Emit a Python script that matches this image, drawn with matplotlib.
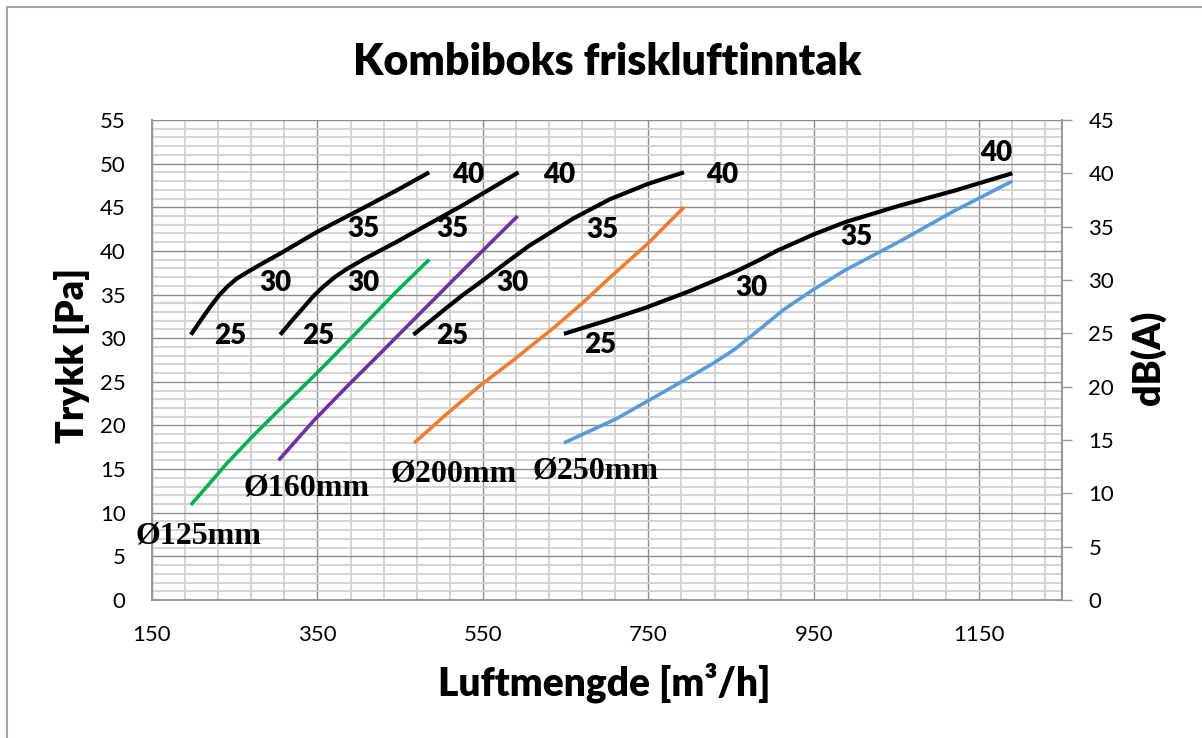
import matplotlib
matplotlib.use("Agg")
import matplotlib.pyplot as plt
import numpy as np
from matplotlib.patches import Rectangle

# Luftmengde [m3/h] / trykk [Pa] for hver kanaldimensjon
x_125 = [197, 220, 240, 272, 305, 345, 365, 405, 445, 485]
y_125 = [10.9, 13.4, 15.6, 18.8, 21.9, 25.6, 27.5, 31.4, 35.3, 39.0]

x_160 = [303, 345, 385, 420, 485, 525, 592]
y_160 = [16.0, 20.5, 24.4, 27.7, 33.9, 37.7, 44.0]

x_200 = [467, 506, 547, 587, 637, 670, 703, 750, 793]
y_200 = [18.0, 21.3, 24.6, 27.5, 31.3, 34.0, 36.9, 40.9, 45.0]

x_250 = [648, 680, 712, 751, 790, 828, 854, 879, 914, 950, 988, 1054, 1120, 1190]
y_250 = [18.0, 19.4, 20.8, 22.9, 25.0, 27.1, 28.7, 30.6, 33.3, 35.6, 37.8, 41.1, 44.6, 48.0]

# lydkurver (svarte)
lx_125 = [197, 205, 213, 222, 231, 241, 252, 264, 284, 305, 350, 405, 445, 485]
ly_125 = [30.4, 31.5, 32.6, 33.8, 34.9, 35.9, 36.8, 37.5, 38.6, 39.7, 42.2, 44.9, 46.9, 49.0]

lx_160 = [305, 319, 333, 345, 357, 371, 385, 405, 445, 485, 525, 593]
ly_160 = [30.4, 32.0, 33.5, 34.8, 35.9, 37.0, 37.9, 39.0, 41.0, 43.1, 45.2, 49.0]

lx_200 = [466, 485, 505, 525, 546, 576, 606, 659, 703, 750, 793]
ly_200 = [30.4, 31.85, 33.4, 34.9, 36.35, 38.5, 40.6, 43.7, 45.9, 47.7, 49.0]

lx_250 = [648, 699, 747, 800, 830, 857, 883, 905, 950, 988, 1054, 1120, 1190]
ly_250 = [30.5, 32.0, 33.5, 35.4, 36.6, 37.7, 38.9, 40.0, 41.9, 43.3, 45.2, 46.9, 48.9]

# dB-merker (tekst, x, y)
db_labels = [
    ("25", 244, 30.2), ("25", 351, 30.2), ("25", 513, 30.2), ("25", 692, 29.2),
    ("30", 299, 36.3), ("30", 405, 36.3), ("30", 586, 36.3), ("30", 874, 35.8),
    ("35", 405, 42.5), ("35", 513, 42.5), ("35", 694, 42.4), ("35", 1001, 41.6),
    ("40", 532, 48.7), ("40", 642, 48.7), ("40", 839, 48.7), ("40", 1170, 51.2),
]
dim_labels = [
    ("Ø125mm", 206, 7.3), ("Ø160mm", 337, 12.8),
    ("Ø200mm", 514, 14.4), ("Ø250mm", 686, 14.8),
]

x_ticks = np.arange(150, 1251, 200)
x_minor = np.arange(150, 1251, 40)
y_ticks = np.arange(0, 56, 5)
y_minor = np.arange(0, 56, 1)
y2_ticks = np.arange(0, 46, 5)

sans = ["Lato", "DejaVu Sans"]
plt.rcParams["font.family"] = sans

fig = plt.figure(figsize=(12.02, 7.38), dpi=100)
ax = fig.add_axes([152 / 1202, 1 - 600 / 738, 910 / 1202, 480 / 738])

# ramme rundt diagrammet
fig.patches.append(Rectangle((7 / 1202, -0.1), 1.2, 1 - 7 / 738 + 0.1,
                             transform=fig.transFigure, fill=False,
                             edgecolor="#a6a6a6", lw=1.5))

kw = dict(solid_capstyle="butt", solid_joinstyle="round")
ax.plot(x_125, y_125, color="#00b050", lw=2.6, **kw)
ax.plot(x_160, y_160, color="#7030a0", lw=2.6, **kw)
ax.plot(x_200, y_200, color="#ed7d31", lw=2.6, **kw)
ax.plot(x_250, y_250, color="#5b9bd5", lw=2.6, **kw)
for lx, ly in [(lx_125, ly_125), (lx_160, ly_160), (lx_200, ly_200), (lx_250, ly_250)]:
    ax.plot(lx, ly, color="black", lw=3.0, **kw)

for t, x, y in db_labels:
    ax.text(x, y, t, ha="center", va="center", fontsize=20, fontweight="heavy")
for t, x, y in dim_labels:
    ax.text(x, y, t, ha="center", va="center", fontsize=23, fontweight="bold",
            family=["Liberation Serif", "DejaVu Serif"])

ax.set_xlim(150, 1250)
ax.set_ylim(0, 55)
ax.set_xticks(x_ticks)
ax.set_xticks(x_minor, minor=True)
ax.set_yticks(y_ticks)
ax.set_yticks(y_minor, minor=True)
ax.grid(which="minor", color="#d0d0d0", lw=1.3)
ax.grid(which="major", color="#8c8c8c", lw=1.0)
ax.set_axisbelow(True)
ax.tick_params(which="both", length=0, labelsize=16)
ax.tick_params(axis="y", pad=19)
ax.tick_params(axis="x", pad=18)
for s in ["left", "bottom"]:
    ax.spines[s].set_color("#9a9a9a")
    ax.spines[s].set_linewidth(1.5)
for s in ["top", "right"]:
    ax.spines[s].set_visible(False)

ax2 = ax.twinx()
ax2.set_ylim(0, 45)
ax2.set_yticks(y2_ticks)
ax2.tick_params(length=7, width=1, color="#9a9a9a", labelsize=16, pad=12)
for s in ["left", "bottom", "top"]:
    ax2.spines[s].set_visible(False)
ax2.spines["right"].set_color("#9a9a9a")
ax2.spines["right"].set_linewidth(1.5)

fig.text(607 / 1202, 1 - 62 / 738, "Kombiboks friskluftinntak", ha="center",
         va="center", fontsize=31, fontweight="heavy")
fig.text(604 / 1202, 1 - 683 / 738, "Luftmengde [m³/h]", ha="center",
         va="center", fontsize=28, fontweight="heavy")
fig.text(72 / 1202, 1 - 355 / 738, "Trykk [Pa]", ha="center", va="center",
         rotation=90, fontsize=27, fontweight="heavy")
fig.text(1148 / 1202, 1 - 358 / 738, "dB(A)", ha="center", va="center",
         rotation=90, fontsize=27, fontweight="heavy")

fig.savefig("out.png", dpi=100)
